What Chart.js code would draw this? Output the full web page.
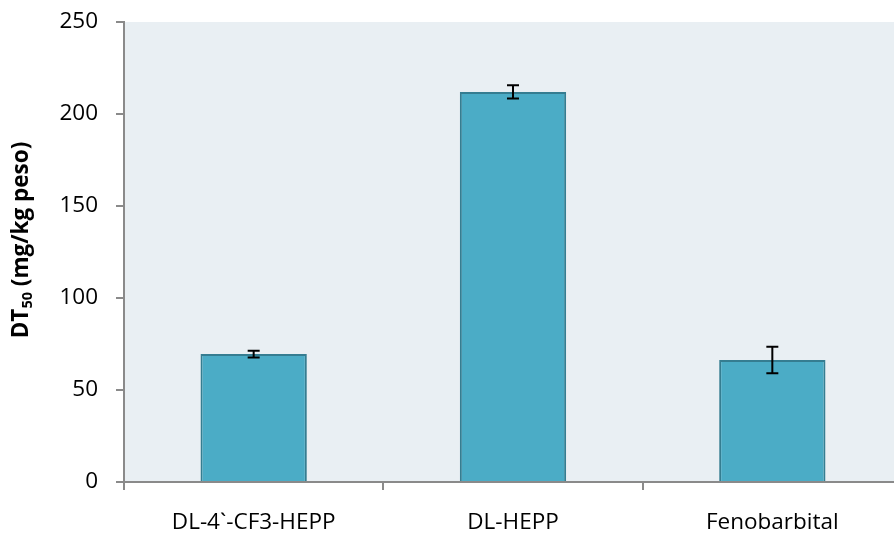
<!DOCTYPE html>
<html>
<head>
<meta charset="utf-8">
<script src="https://cdn.jsdelivr.net/npm/chart.js@4"></script>
<style>
  html, body { margin: 0; padding: 0; background: #ffffff; overflow: hidden; }
  #wrap { width: 902px; height: 537px; }
</style>
</head>
<body>
<div id="wrap"><canvas id="c" width="902" height="537"></canvas></div>
<script>
// Compounds tested and their DT50 values (mg/kg peso) with standard error
const categories = ['DL-4`-CF3-HEPP', 'DL-HEPP', 'Fenobarbital'];
const dt50Values = [69.5, 212, 66.3];
const dt50Errors = [1.8, 3.6, 7.2];
const yTicks = [0, 50, 100, 150, 200, 250];

const FONT = "'Open Sans', 'DejaVu Sans', sans-serif";
const AXIS_GREY = '#8a8a8a';

// Light blue-grey panel behind the bars
const plotBackground = {
  id: 'plotBackground',
  beforeDraw(chart) {
    const { ctx, chartArea: a } = chart;
    ctx.save();
    ctx.fillStyle = '#e9eff3';
    ctx.fillRect(a.left, a.top, a.right - a.left, a.bottom - a.top);
    ctx.restore();
  }
};

// Error bars with caps, drawn from the error array via the y scale
const errorBars = {
  id: 'errorBars',
  afterDatasetsDraw(chart) {
    const { ctx } = chart;
    const y = chart.scales.y;
    const meta = chart.getDatasetMeta(0);
    ctx.save();
    ctx.strokeStyle = '#000000';
    ctx.lineWidth = 2;
    meta.data.forEach((bar, i) => {
      const v = dt50Values[i], e = dt50Errors[i];
      const yHi = y.getPixelForValue(v + e);
      const yLo = y.getPixelForValue(v - e);
      const x = bar.x;
      const cap = 6;
      ctx.beginPath();
      ctx.moveTo(x, yHi); ctx.lineTo(x, yLo);
      ctx.moveTo(x - cap, yHi); ctx.lineTo(x + cap, yHi);
      ctx.moveTo(x - cap, yLo); ctx.lineTo(x + cap, yLo);
      ctx.stroke();
    });
    ctx.restore();
  }
};

// Rotated y-axis title with a subscript "50"
const yTitle = {
  id: 'yTitle',
  afterDraw(chart) {
    const { ctx } = chart;
    const main = "bold 22.5px " + FONT;
    const sub = "bold 14.5px " + FONT;
    const p1 = 'DT', p2 = '50', p3 = ' (mg/kg peso)';
    ctx.save();
    ctx.font = main; const w1 = ctx.measureText(p1).width;
    const w3 = ctx.measureText(p3).width;
    ctx.font = sub; const w2 = ctx.measureText(p2).width;
    const total = w1 + w2 + w3;
    ctx.translate(22, 240);
    ctx.rotate(-Math.PI / 2);
    ctx.fillStyle = '#000000';
    ctx.textBaseline = 'middle';
    ctx.textAlign = 'left';
    let x = -total / 2;
    ctx.font = main; ctx.fillText(p1, x, 0); x += w1;
    ctx.font = sub; ctx.fillText(p2, x, 6); x += w2;
    ctx.font = main; ctx.fillText(p3, x, 0);
    ctx.restore();
  }
};

new Chart(document.getElementById('c'), {
  type: 'bar',
  data: {
    labels: categories,
    datasets: [{
      data: dt50Values,
      backgroundColor: '#4bacc6',
      borderColor: '#357d91',
      borderWidth: 2,
      categoryPercentage: 1.0,
      barPercentage: 0.41
    }]
  },
  options: {
    responsive: false,
    devicePixelRatio: 1,
    animation: false,
    layout: { padding: { top: 22, right: 0, left: 0, bottom: 0 } },
    plugins: { legend: { display: false }, tooltip: { enabled: false }, title: { display: false } },
    scales: {
      x: {
        offset: true,
        grid: {
          offset: true,
          drawOnChartArea: false,
          drawTicks: true,
          tickLength: 8,
          color: AXIS_GREY,
          lineWidth: 2
        },
        border: { color: AXIS_GREY, width: 2 },
        ticks: { color: '#000000', font: { family: FONT, size: 22.5 }, padding: 19, maxRotation: 0 },
        afterFit(scale) {
          scale.height = 55;
          scale.paddingLeft = 0; scale.paddingRight = 0;
        }
      },
      y: {
        min: 0,
        max: 250,
        afterBuildTicks(scale) { scale.ticks = yTicks.map(v => ({ value: v })); },
        grid: {
          drawOnChartArea: false,
          drawTicks: true,
          tickLength: 8,
          color: AXIS_GREY,
          lineWidth: 2
        },
        border: { color: AXIS_GREY, width: 2 },
        ticks: { color: '#000000', font: { family: FONT, size: 22.5 }, padding: 18 },
        afterFit(scale) {
          scale.width = 124;
          scale.paddingTop = 0; scale.paddingBottom = 0;
        }
      }
    }
  },
  plugins: [plotBackground, errorBars, yTitle]
});
</script>
</body>
</html>
